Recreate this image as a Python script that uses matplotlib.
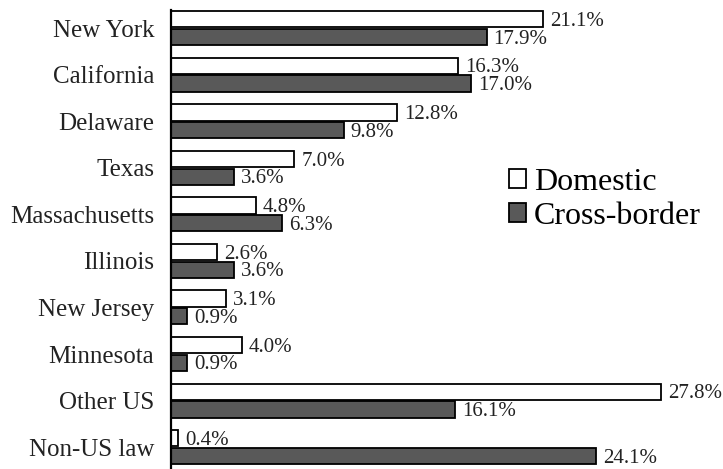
import matplotlib.pyplot as plt
import numpy as np

# Data
states = ['New York', 'California', 'Delaware', 'Texas', 'Massachusetts',
          'Illinois', 'New Jersey', 'Minnesota', 'Other US', 'Non-US law']
domestic = [21.1, 16.3, 12.8, 7.0, 4.8, 2.6, 3.1, 4.0, 27.8, 0.4]
cross_border = [17.9, 17.0, 9.8, 3.6, 6.3, 3.6, 0.9, 0.9, 16.1, 24.1]

plt.rcParams['font.family'] = ['Liberation Serif', 'DejaVu Serif']

fig = plt.figure(figsize=(7.23, 4.69), dpi=100)
ax = fig.add_axes([171 / 723, 0, 1 - 171 / 723, 459 / 469])

y = np.arange(len(states))
h = 0.35
off = 0.19
bars_d = ax.barh(y - off, domestic, height=h, color='white', edgecolor='black',
                 linewidth=1.3, label='Domestic')
bars_c = ax.barh(y + off, cross_border, height=h, color='#595959', edgecolor='black',
                 linewidth=1.3, label='Cross-border')

# value labels
for bars, vals in [(bars_d, domestic), (bars_c, cross_border)]:
    for b, v in zip(bars, vals):
        ax.annotate(f'{v:.1f}%', (v, b.get_y() + b.get_height() / 2),
                    textcoords='offset points', xytext=(5, -1.5),
                    ha='left', va='center', fontsize=15, color='#222222')

ax.set_yticks(y)
ax.set_yticklabels(states, fontsize=18, color='#222222')
ax.tick_params(axis='y', length=0, pad=12)
ax.set_xticks([])
ax.set_xlim(0, 31.3)
ax.set_ylim(9.47, -0.39)

for s in ['top', 'right', 'bottom']:
    ax.spines[s].set_visible(False)
ax.spines['left'].set_linewidth(1.6)

ax.legend(loc='upper left', bbox_to_anchor=(509 / 723, (469 - 168) / 469),
          bbox_transform=fig.transFigure, frameon=False,
          fontsize=23, handlelength=0.52, handleheight=0.52, handletextpad=0.25,
          labelspacing=0.15, borderaxespad=0, borderpad=0)

fig.savefig('out.png', dpi=100)
